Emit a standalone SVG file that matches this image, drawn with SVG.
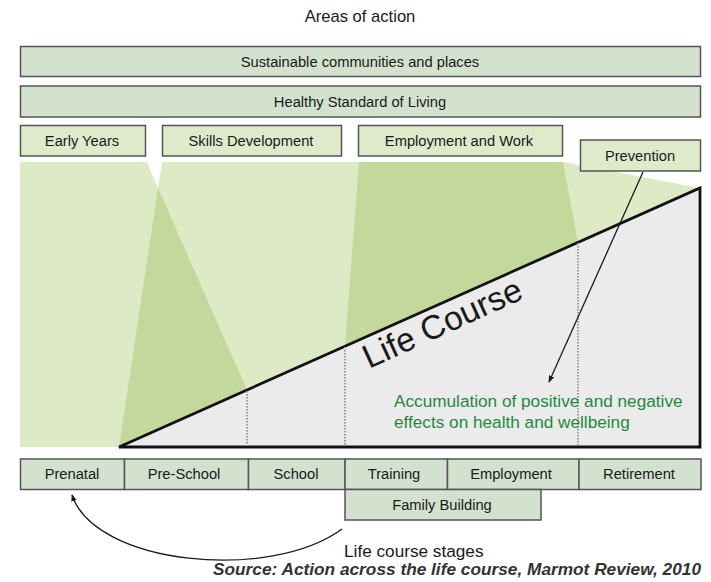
<svg xmlns="http://www.w3.org/2000/svg" width="711" height="582" viewBox="0 0 711 582">
  <style>
    text { font-family: "Liberation Sans", Arial, sans-serif; fill: #1a1a1a; }
    .lbl { font-size: 14.7px; text-anchor: middle; dominant-baseline: central; }
    .bar { fill: #d3e2cf; stroke: #555; stroke-width: 1.5; }
    .area { fill: #dfeacb; stroke: #555; stroke-width: 1.5; }
    .stage { fill: #d3e2cf; stroke: #555; stroke-width: 1.5; }
    .light { fill: #deeac6; }
    .dark { fill: #c3d99b; }
    .guide { stroke: #9a9a9a; stroke-width: 2; stroke-dasharray: 1.5 1.5; fill: none; }
    .conn { stroke: #1a1a1a; stroke-width: 1.3; fill: none; }
    .note { font-size: 17.2px; fill: #1f8a3c; }
  </style>
  <defs>
    <marker id="arrow" viewBox="0 0 10 10" refX="9" refY="5" markerWidth="7" markerHeight="7" orient="auto-start-reverse" markerUnits="userSpaceOnUse">
      <path d="M0,1 L10,5 L0,9 Z" fill="#1a1a1a"/>
    </marker>
  </defs>

  <rect width="711" height="582" fill="#ffffff"/>

  <text x="360" y="16" class="lbl" style="font-size:16.6px">Areas of action</text>

  <!-- reach of each area of action across the life course -->
  <g id="areas-background">
    <polygon class="light" points="20,162 147,162 158,188 162,162 563,162 700,188 700,447 20,447"/>
    <polygon class="dark" points="158,188 247,390 119,447"/>
    <polygon class="dark" points="359,162 563,162 578,242 345,346"/>
  </g>

  <!-- life course wedge -->
  <g id="life-course">
    <polygon points="119,447 700,188 700,447" fill="#ebebeb" stroke="#111" stroke-width="2.8" stroke-linejoin="miter"/>
    <line class="guide" x1="247" y1="391" x2="247" y2="446"/>
    <line class="guide" x1="345" y1="347" x2="345" y2="446"/>
    <line class="guide" x1="578" y1="243" x2="578" y2="446"/>
    <text x="369" y="369" transform="rotate(-24.5 369 369)" style="font-size:33.5px">Life Course</text>
    <text x="394" y="407" class="note">Accumulation of positive and negative</text>
    <text x="394" y="428" class="note">effects on health and wellbeing</text>
  </g>

  <g id="sustainable-communities">
    <rect class="bar" x="20.5" y="46.5" width="680" height="30"/>
    <text class="lbl" x="360" y="62">Sustainable communities and places</text>
  </g>
  <g id="healthy-standard">
    <rect class="bar" x="20.5" y="86" width="680" height="31"/>
    <text class="lbl" x="360" y="101.5">Healthy Standard of Living</text>
  </g>
  <g id="early-years">
    <rect class="area" x="20.5" y="125.5" width="125" height="30.5"/>
    <text class="lbl" x="82" y="141">Early Years</text>
  </g>
  <g id="skills-development">
    <rect class="area" x="162.5" y="125.5" width="179" height="30.5"/>
    <text class="lbl" x="251" y="141">Skills Development</text>
  </g>
  <g id="employment-work">
    <rect class="area" x="358.5" y="125.5" width="204" height="30.5"/>
    <text class="lbl" x="459" y="141">Employment and Work</text>
  </g>
  <g id="prevention">
    <rect class="area" x="580.5" y="140" width="120" height="31"/>
    <text class="lbl" x="640" y="156">Prevention</text>
  </g>

  <!-- life course stages -->
  <g id="prenatal">
    <rect class="stage" x="20.5" y="459" width="104" height="30.5"/>
    <text class="lbl" x="72" y="474">Prenatal</text>
  </g>
  <g id="pre-school">
    <rect class="stage" x="124.5" y="459" width="124" height="30.5"/>
    <text class="lbl" x="184" y="474">Pre-School</text>
  </g>
  <g id="school">
    <rect class="stage" x="248.5" y="459" width="96.5" height="30.5"/>
    <text class="lbl" x="296" y="474">School</text>
  </g>
  <g id="training">
    <rect class="stage" x="345" y="459" width="102.5" height="30.5"/>
    <text class="lbl" x="394" y="474">Training</text>
  </g>
  <g id="employment">
    <rect class="stage" x="447.5" y="459" width="131.5" height="30.5"/>
    <text class="lbl" x="511" y="474">Employment</text>
  </g>
  <g id="retirement">
    <rect class="stage" x="579" y="459" width="122" height="30.5"/>
    <text class="lbl" x="639" y="474">Retirement</text>
  </g>
  <g id="family-building">
    <rect class="stage" x="345" y="489.5" width="196" height="30.5"/>
    <text class="lbl" x="442" y="505">Family Building</text>
  </g>

  <g id="connectors">
    <line class="conn" x1="643" y1="172" x2="549" y2="382" marker-end="url(#arrow)"/>
    <path class="conn" d="M342,529 C270,582 95,565 72,495" marker-end="url(#arrow)"/>
  </g>

  <text x="344" y="557" style="font-size:17.2px">Life course stages</text>
  <text x="213" y="575" textLength="488" lengthAdjust="spacingAndGlyphs" style="font-size:17px;font-weight:bold;font-style:italic;fill:#333">Source: Action across the life course, Marmot Review, 2010</text>
</svg>
